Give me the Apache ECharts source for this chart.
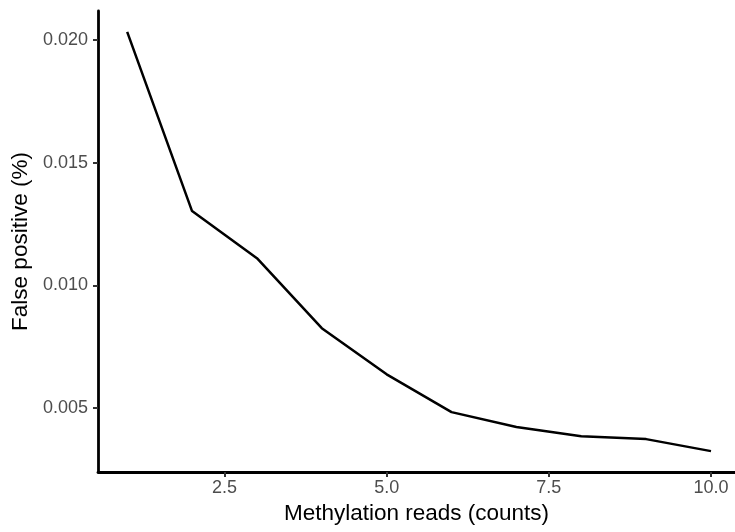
<!DOCTYPE html>
<html><head><meta charset="utf-8">
<script src="https://cdn.jsdelivr.net/npm/echarts@6/dist/echarts.min.js"></script>
<style>html,body{margin:0;padding:0;background:#fff}#c{width:735px;height:532px}</style>
</head><body><div id="c"></div>
<script>
const reads = [1, 2, 3, 4, 5, 6, 7, 8, 9, 10];
const falsePositive = [0.02033, 0.01303, 0.01111, 0.00826, 0.00638, 0.00484, 0.00423, 0.00386, 0.00374, 0.00325];
const xTicks = [2.5, 5.0, 7.5, 10.0];
const yTicks = [0.005, 0.010, 0.015, 0.020];

const chart = echarts.init(document.getElementById('c'), null, {renderer: 'canvas'});
const font = 'Liberation Sans, Arial, sans-serif';
chart.setOption({
  animation: false,
  grid: {left: 98, right: 0, top: 11, bottom: 60},
  xAxis: {
    type: 'value', min: 0.55, max: 10.37,
    name: 'Methylation reads (counts)', nameLocation: 'middle', nameGap: 21,
    nameTextStyle: {fontFamily: font, fontSize: 22.5, color: '#000'},
    axisLine: {show: true, onZero: false, lineStyle: {color: '#000', width: 2.8}},
    axisTick: {show: true, customValues: xTicks, length: 5, lineStyle: {color: '#333', width: 2}},
    axisLabel: {customValues: xTicks, formatter: v => v.toFixed(1), fontFamily: font, fontSize: 18, color: '#4d4d4d', margin: 7},
    splitLine: {show: false}
  },
  yAxis: {
    type: 'value', min: 0.0024, max: 0.02118,
    name: 'False positive (%)', nameLocation: 'middle', nameGap: 60, nameRotate: 90,
    nameTextStyle: {fontFamily: font, fontSize: 22.5, color: '#000'},
    axisLine: {show: true, onZero: false, lineStyle: {color: '#000', width: 2.8}},
    axisTick: {show: true, customValues: yTicks, length: 5, lineStyle: {color: '#333', width: 2}},
    axisLabel: {customValues: yTicks, formatter: v => v.toFixed(3), fontFamily: font, fontSize: 18, color: '#4d4d4d', margin: 10},
    splitLine: {show: false}
  },
  series: [{
    type: 'line', data: reads.map((x, i) => [x, falsePositive[i]]),
    showSymbol: false, lineStyle: {color: '#000', width: 2.5}
  }]
});
</script></body></html>
